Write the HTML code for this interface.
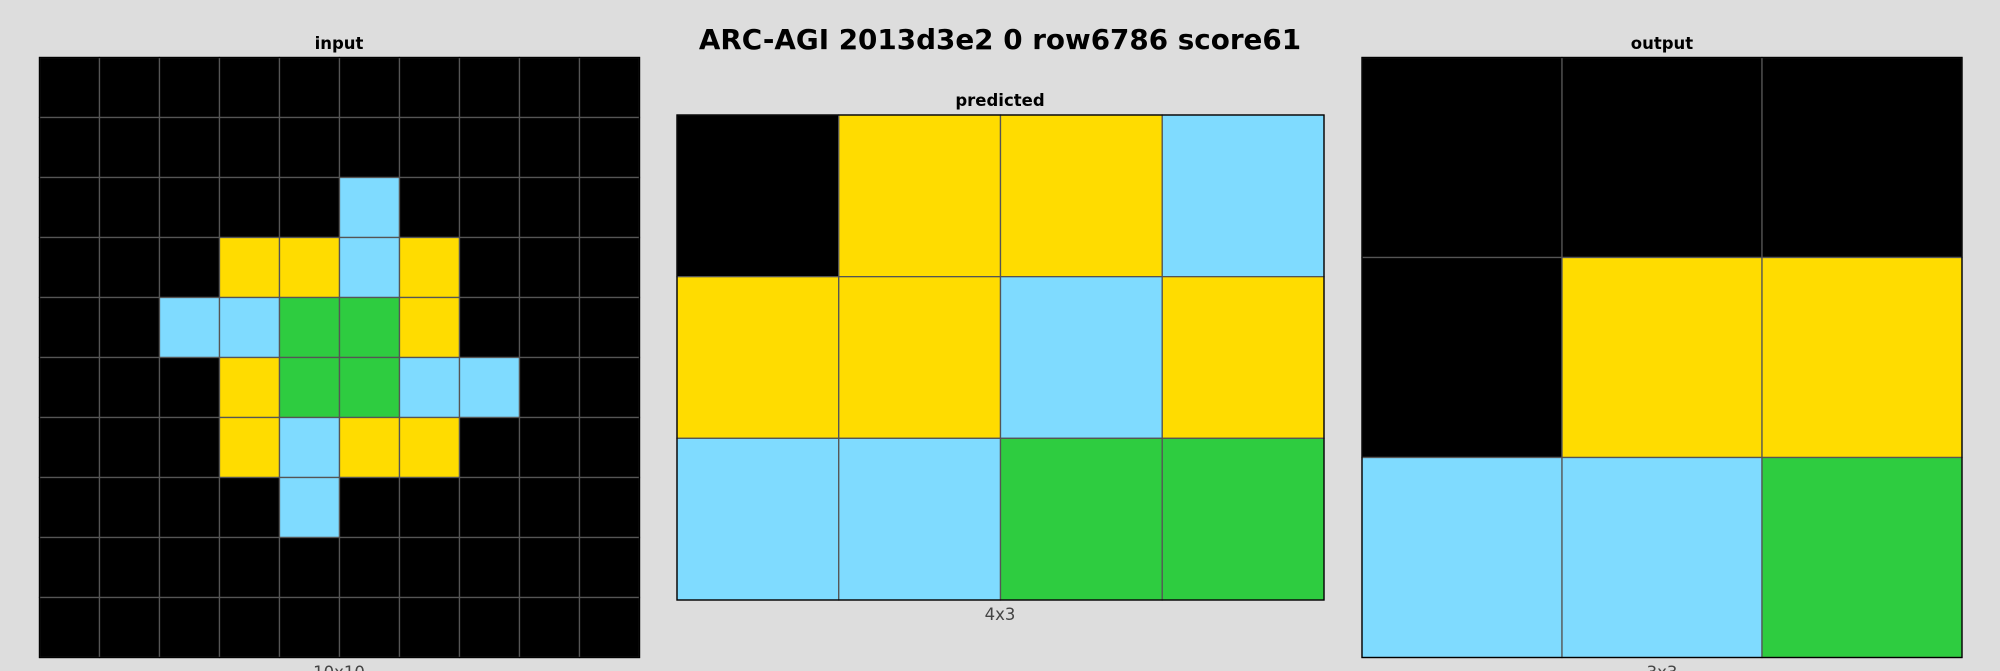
<!DOCTYPE html>
<html><head><meta charset="utf-8">
<style>
html,body{margin:0;padding:0;background:#dddddd;}
svg{display:block;font-family:"DejaVu Sans","Liberation Sans",sans-serif;}
</style></head>
<body>
<svg id="chart" width="2000" height="671" viewBox="0 0 2000 671">
<rect x="0" y="0" width="2000" height="671" fill="#dddddd"/>
<text x="1000" y="49" text-anchor="middle" font-size="27.8" font-weight="bold" fill="#000">ARC-AGI 2013d3e2 0 row6786 score61</text>
<text x="339" y="49" text-anchor="middle" font-size="16.5" font-weight="bold" fill="#000">input</text>
<text x="1000" y="106" text-anchor="middle" font-size="16.5" font-weight="bold" fill="#000">predicted</text>
<text x="1662" y="49" text-anchor="middle" font-size="16.5" font-weight="bold" fill="#000">output</text>
<text x="339" y="678" text-anchor="middle" font-size="16.5" fill="#444">10x10</text>
<text x="1000" y="620" text-anchor="middle" font-size="16.5" fill="#444">4x3</text>
<text x="1662" y="678" text-anchor="middle" font-size="16.5" fill="#444">3x3</text>
<g id="grids"></g>
</svg>
<script>
const palette = {0:"#000000",3:"#2ECC40",4:"#FFDC00",8:"#7FDBFF"};
const inputGrid = [
[0,0,0,0,0,0,0,0,0,0],
[0,0,0,0,0,0,0,0,0,0],
[0,0,0,0,0,8,0,0,0,0],
[0,0,0,4,4,8,4,0,0,0],
[0,0,8,8,3,3,4,0,0,0],
[0,0,0,4,3,3,8,8,0,0],
[0,0,0,4,8,4,4,0,0,0],
[0,0,0,0,8,0,0,0,0,0],
[0,0,0,0,0,0,0,0,0,0],
[0,0,0,0,0,0,0,0,0,0]
];
const predictedGrid = [
[0,4,4,8],
[4,4,8,4],
[8,8,3,3]
];
const outputGrid = [
[0,0,0],
[0,4,4],
[8,8,3]
];
const g = document.getElementById('grids');
const NS = "http://www.w3.org/2000/svg";
function drawGrid(grid, x0, y0, w, h, name){
  const rows = grid.length, cols = grid[0].length;
  const cw = w/cols, ch = h/rows;
  const grp = document.createElementNS(NS,'g');
  
  
  grid.forEach((row,r)=>row.forEach((v,c)=>{
    const rect = document.createElementNS(NS,'rect');
    rect.setAttribute('x', x0 + c*cw);
    rect.setAttribute('y', y0 + r*ch);
    rect.setAttribute('width', cw);
    rect.setAttribute('height', ch);
    rect.setAttribute('fill', palette[v]);
    rect.setAttribute('stroke', '#555555');
    rect.setAttribute('stroke-width', '1.3');
    
    
    grp.appendChild(rect);
  }));
  const border = document.createElementNS(NS,'rect');
  border.setAttribute('x', x0); border.setAttribute('y', y0);
  border.setAttribute('width', w); border.setAttribute('height', h);
  border.setAttribute('fill', 'none'); border.setAttribute('stroke', '#000');
  border.setAttribute('stroke-width', '1.3');
  
  
  grp.appendChild(border);
  g.appendChild(grp);
}
drawGrid(inputGrid, 39.5, 57.5, 600, 600, 'input');
drawGrid(predictedGrid, 677, 115, 647, 485, 'predicted');
drawGrid(outputGrid, 1362, 57.5, 600, 600, 'output');
</script>
</body></html>
